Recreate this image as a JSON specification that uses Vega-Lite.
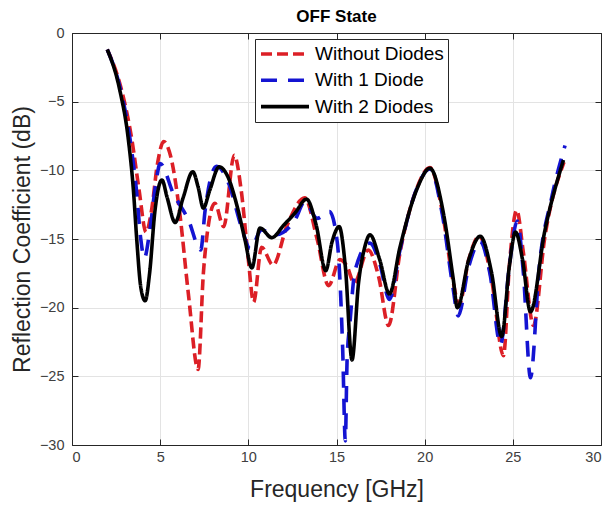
{
  "$schema": "https://vega.github.io/schema/vega-lite/v6.json",
  "width": 529,
  "height": 412,
  "autosize": {"type": "none"},
  "padding": {"left": 72, "top": 33, "right": 10, "bottom": 64},
  "background": "white",
  "title": {"text": "OFF State", "fontSize": 17, "fontWeight": "bold", "font": "Liberation Sans", "color": "#000000", "offset": -1, "anchor": "middle"},
  "config": {
    "view": {"stroke": "#262626", "strokeWidth": 1},
    "axis": {"labelFont": "Liberation Sans", "titleFont": "Liberation Sans", "labelColor": "#404040", "titleColor": "#262626", "labelFontSize": 14.5, "titleFontSize": 23, "titleFontWeight": "normal", "domainColor": "#262626", "tickColor": "#262626", "gridColor": "#e3e3e3", "gridOpacity": 1}
  },
  "data": {"values": [
    {"series": "Without Diodes", "freq": 2.0, "rc": -1.2},
    {"series": "Without Diodes", "freq": 2.8, "rc": -4.1},
    {"series": "Without Diodes", "freq": 3.4, "rc": -7.8},
    {"series": "Without Diodes", "freq": 3.8, "rc": -11.4},
    {"series": "Without Diodes", "freq": 4.2, "rc": -14.5},
    {"series": "Without Diodes", "freq": 4.5, "rc": -13.0},
    {"series": "Without Diodes", "freq": 4.85, "rc": -9.5},
    {"series": "Without Diodes", "freq": 5.2, "rc": -7.9},
    {"series": "Without Diodes", "freq": 5.6, "rc": -9.0},
    {"series": "Without Diodes", "freq": 6.1, "rc": -13.0},
    {"series": "Without Diodes", "freq": 6.6, "rc": -19.0},
    {"series": "Without Diodes", "freq": 7.15, "rc": -24.5},
    {"series": "Without Diodes", "freq": 7.45, "rc": -17.5},
    {"series": "Without Diodes", "freq": 7.7, "rc": -14.3},
    {"series": "Without Diodes", "freq": 8.1, "rc": -12.4},
    {"series": "Without Diodes", "freq": 8.6, "rc": -14.1},
    {"series": "Without Diodes", "freq": 9.2, "rc": -8.9},
    {"series": "Without Diodes", "freq": 9.6, "rc": -11.5},
    {"series": "Without Diodes", "freq": 10.0, "rc": -16.5},
    {"series": "Without Diodes", "freq": 10.3, "rc": -19.6},
    {"series": "Without Diodes", "freq": 10.75, "rc": -15.6},
    {"series": "Without Diodes", "freq": 11.4, "rc": -16.9},
    {"series": "Without Diodes", "freq": 12.2, "rc": -14.0},
    {"series": "Without Diodes", "freq": 13.2, "rc": -12.0},
    {"series": "Without Diodes", "freq": 13.9, "rc": -15.0},
    {"series": "Without Diodes", "freq": 14.55, "rc": -18.4},
    {"series": "Without Diodes", "freq": 15.2, "rc": -16.5},
    {"series": "Without Diodes", "freq": 15.6, "rc": -17.0},
    {"series": "Without Diodes", "freq": 16.0, "rc": -18.2},
    {"series": "Without Diodes", "freq": 16.8, "rc": -15.8},
    {"series": "Without Diodes", "freq": 17.4, "rc": -17.8},
    {"series": "Without Diodes", "freq": 17.95, "rc": -21.3},
    {"series": "Without Diodes", "freq": 18.6, "rc": -16.0},
    {"series": "Without Diodes", "freq": 19.5, "rc": -11.5},
    {"series": "Without Diodes", "freq": 20.3, "rc": -9.8},
    {"series": "Without Diodes", "freq": 21.0, "rc": -13.0},
    {"series": "Without Diodes", "freq": 21.6, "rc": -18.0},
    {"series": "Without Diodes", "freq": 21.95, "rc": -19.8},
    {"series": "Without Diodes", "freq": 22.5, "rc": -16.5},
    {"series": "Without Diodes", "freq": 23.1, "rc": -14.8},
    {"series": "Without Diodes", "freq": 23.8, "rc": -18.0},
    {"series": "Without Diodes", "freq": 24.47, "rc": -23.5},
    {"series": "Without Diodes", "freq": 24.8, "rc": -17.0},
    {"series": "Without Diodes", "freq": 25.22, "rc": -12.9},
    {"series": "Without Diodes", "freq": 25.6, "rc": -16.0},
    {"series": "Without Diodes", "freq": 26.17, "rc": -21.3},
    {"series": "Without Diodes", "freq": 26.8, "rc": -15.0},
    {"series": "Without Diodes", "freq": 27.9, "rc": -9.4},

    {"series": "With 1 Diode", "freq": 2.0, "rc": -1.2},
    {"series": "With 1 Diode", "freq": 2.75, "rc": -4.1},
    {"series": "With 1 Diode", "freq": 3.3, "rc": -7.8},
    {"series": "With 1 Diode", "freq": 3.65, "rc": -11.4},
    {"series": "With 1 Diode", "freq": 3.9, "rc": -15.0},
    {"series": "With 1 Diode", "freq": 4.1, "rc": -16.4},
    {"series": "With 1 Diode", "freq": 4.4, "rc": -14.5},
    {"series": "With 1 Diode", "freq": 4.75, "rc": -11.0},
    {"series": "With 1 Diode", "freq": 5.0, "rc": -9.5},
    {"series": "With 1 Diode", "freq": 5.75, "rc": -11.7},
    {"series": "With 1 Diode", "freq": 6.6, "rc": -13.6},
    {"series": "With 1 Diode", "freq": 7.3, "rc": -15.8},
    {"series": "With 1 Diode", "freq": 7.55, "rc": -12.9},
    {"series": "With 1 Diode", "freq": 8.2, "rc": -9.7},
    {"series": "With 1 Diode", "freq": 8.9, "rc": -11.0},
    {"series": "With 1 Diode", "freq": 9.6, "rc": -14.1},
    {"series": "With 1 Diode", "freq": 10.1, "rc": -15.7},
    {"series": "With 1 Diode", "freq": 10.76, "rc": -14.35},
    {"series": "With 1 Diode", "freq": 11.5, "rc": -14.7},
    {"series": "With 1 Diode", "freq": 12.65, "rc": -13.6},
    {"series": "With 1 Diode", "freq": 13.2, "rc": -12.3},
    {"series": "With 1 Diode", "freq": 13.9, "rc": -13.5},
    {"series": "With 1 Diode", "freq": 14.6, "rc": -13.0},
    {"series": "With 1 Diode", "freq": 15.05, "rc": -15.3},
    {"series": "With 1 Diode", "freq": 15.35, "rc": -23.0},
    {"series": "With 1 Diode", "freq": 15.5, "rc": -29.7},
    {"series": "With 1 Diode", "freq": 15.6, "rc": -23.8},
    {"series": "With 1 Diode", "freq": 15.77, "rc": -21.0},
    {"series": "With 1 Diode", "freq": 16.05, "rc": -17.3},
    {"series": "With 1 Diode", "freq": 16.9, "rc": -15.3},
    {"series": "With 1 Diode", "freq": 17.45, "rc": -16.8},
    {"series": "With 1 Diode", "freq": 18.0, "rc": -19.4},
    {"series": "With 1 Diode", "freq": 18.6, "rc": -15.8},
    {"series": "With 1 Diode", "freq": 19.5, "rc": -11.5},
    {"series": "With 1 Diode", "freq": 20.3, "rc": -9.9},
    {"series": "With 1 Diode", "freq": 21.0, "rc": -13.2},
    {"series": "With 1 Diode", "freq": 21.6, "rc": -18.5},
    {"series": "With 1 Diode", "freq": 21.9, "rc": -20.6},
    {"series": "With 1 Diode", "freq": 22.5, "rc": -17.0},
    {"series": "With 1 Diode", "freq": 23.15, "rc": -15.2},
    {"series": "With 1 Diode", "freq": 23.7, "rc": -17.5},
    {"series": "With 1 Diode", "freq": 24.3, "rc": -22.7},
    {"series": "With 1 Diode", "freq": 24.8, "rc": -17.0},
    {"series": "With 1 Diode", "freq": 25.25, "rc": -13.7},
    {"series": "With 1 Diode", "freq": 25.6, "rc": -17.5},
    {"series": "With 1 Diode", "freq": 26.0, "rc": -25.1},
    {"series": "With 1 Diode", "freq": 26.5, "rc": -17.0},
    {"series": "With 1 Diode", "freq": 27.2, "rc": -12.0},
    {"series": "With 1 Diode", "freq": 27.96, "rc": -8.2},

    {"series": "With 2 Diodes", "freq": 2.0, "rc": -1.2},
    {"series": "With 2 Diodes", "freq": 2.7, "rc": -4.1},
    {"series": "With 2 Diodes", "freq": 3.2, "rc": -7.8},
    {"series": "With 2 Diodes", "freq": 3.48, "rc": -11.4},
    {"series": "With 2 Diodes", "freq": 3.67, "rc": -15.0},
    {"series": "With 2 Diodes", "freq": 3.9, "rc": -18.5},
    {"series": "With 2 Diodes", "freq": 4.15, "rc": -19.5},
    {"series": "With 2 Diodes", "freq": 4.4, "rc": -17.5},
    {"series": "With 2 Diodes", "freq": 4.7, "rc": -13.0},
    {"series": "With 2 Diodes", "freq": 5.1, "rc": -10.7},
    {"series": "With 2 Diodes", "freq": 5.4, "rc": -12.0},
    {"series": "With 2 Diodes", "freq": 5.85, "rc": -13.8},
    {"series": "With 2 Diodes", "freq": 6.3, "rc": -12.0},
    {"series": "With 2 Diodes", "freq": 6.85, "rc": -10.1},
    {"series": "With 2 Diodes", "freq": 7.15, "rc": -11.2},
    {"series": "With 2 Diodes", "freq": 7.45, "rc": -12.75},
    {"series": "With 2 Diodes", "freq": 7.8, "rc": -11.5},
    {"series": "With 2 Diodes", "freq": 8.35, "rc": -9.75},
    {"series": "With 2 Diodes", "freq": 8.85, "rc": -10.5},
    {"series": "With 2 Diodes", "freq": 9.4, "rc": -12.8},
    {"series": "With 2 Diodes", "freq": 9.8, "rc": -15.0},
    {"series": "With 2 Diodes", "freq": 10.2, "rc": -17.1},
    {"series": "With 2 Diodes", "freq": 10.66, "rc": -14.2},
    {"series": "With 2 Diodes", "freq": 11.33, "rc": -14.9},
    {"series": "With 2 Diodes", "freq": 12.0, "rc": -14.0},
    {"series": "With 2 Diodes", "freq": 12.65, "rc": -13.1},
    {"series": "With 2 Diodes", "freq": 13.3, "rc": -12.1},
    {"series": "With 2 Diodes", "freq": 13.85, "rc": -14.0},
    {"series": "With 2 Diodes", "freq": 14.39, "rc": -17.3},
    {"series": "With 2 Diodes", "freq": 14.75, "rc": -15.2},
    {"series": "With 2 Diodes", "freq": 15.15, "rc": -14.1},
    {"series": "With 2 Diodes", "freq": 15.5, "rc": -17.0},
    {"series": "With 2 Diodes", "freq": 15.88, "rc": -23.8},
    {"series": "With 2 Diodes", "freq": 16.25, "rc": -18.2},
    {"series": "With 2 Diodes", "freq": 16.6, "rc": -15.6},
    {"series": "With 2 Diodes", "freq": 16.9, "rc": -14.7},
    {"series": "With 2 Diodes", "freq": 17.45, "rc": -16.5},
    {"series": "With 2 Diodes", "freq": 18.0, "rc": -19.0},
    {"series": "With 2 Diodes", "freq": 18.6, "rc": -15.6},
    {"series": "With 2 Diodes", "freq": 19.55, "rc": -11.4},
    {"series": "With 2 Diodes", "freq": 20.3, "rc": -9.85},
    {"series": "With 2 Diodes", "freq": 21.06, "rc": -13.1},
    {"series": "With 2 Diodes", "freq": 21.63, "rc": -18.0},
    {"series": "With 2 Diodes", "freq": 21.85, "rc": -20.0},
    {"series": "With 2 Diodes", "freq": 22.5, "rc": -16.5},
    {"series": "With 2 Diodes", "freq": 23.15, "rc": -14.8},
    {"series": "With 2 Diodes", "freq": 23.8, "rc": -17.5},
    {"series": "With 2 Diodes", "freq": 24.37, "rc": -22.1},
    {"series": "With 2 Diodes", "freq": 24.8, "rc": -17.0},
    {"series": "With 2 Diodes", "freq": 25.15, "rc": -14.5},
    {"series": "With 2 Diodes", "freq": 25.55, "rc": -16.5},
    {"series": "With 2 Diodes", "freq": 26.0, "rc": -20.3},
    {"series": "With 2 Diodes", "freq": 26.8, "rc": -14.5},
    {"series": "With 2 Diodes", "freq": 27.87, "rc": -9.25}
  ]},
  "resolve": {"axis": {"x": "independent", "y": "independent"}},
  "layer": [
    {
      "mark": {"type": "line", "interpolate": "monotone", "strokeWidth": 3.6, "strokeCap": "butt"},
      "encoding": {
        "x": {"field": "freq", "type": "quantitative", "scale": {"domain": [0, 30], "nice": false, "zero": false},
              "axis": {"title": "Frequency [GHz]", "values": [0, 5, 10, 15, 20, 25, 30], "grid": true, "tickSize": -6, "labelPadding": 11, "titlePadding": 15}},
        "y": {"field": "rc", "type": "quantitative", "scale": {"domain": [-30, 0], "nice": false, "zero": false},
              "axis": {"title": "Reflection Coefficient (dB)", "values": [-30, -25, -20, -15, -10, -5, 0], "grid": true, "tickSize": -6, "labelPadding": 14, "titlePadding": 5}},
        "color": {"field": "series", "type": "nominal",
                  "scale": {"domain": ["Without Diodes", "With 1 Diode", "With 2 Diodes"], "range": ["#dc1f26", "#1414d2", "#000000"]},
                  "legend": {"title": null, "orient": "none", "legendX": 183, "legendY": 6, "symbolType": "stroke", "symbolSize": 2304, "symbolStrokeWidth": 3.6, "clipHeight": 22, "rowPadding": 4.3, "padding": 4, "labelFontSize": 19, "labelFont": "Liberation Sans", "labelColor": "#000000", "labelOffset": 4, "strokeColor": "#262626", "fillColor": "#ffffff", "cornerRadius": 0}},
        "strokeDash": {"field": "series", "type": "nominal",
                       "scale": {"domain": ["Without Diodes", "With 1 Diode", "With 2 Diodes"], "range": [[11, 5], [16, 11], [1, 0]]},
                       "legend": {"title": null, "orient": "none", "legendX": 183, "legendY": 6, "symbolType": "stroke", "symbolSize": 2304, "symbolStrokeWidth": 3.6, "clipHeight": 22, "rowPadding": 4.3, "padding": 4, "labelFontSize": 19, "labelFont": "Liberation Sans", "labelColor": "#000000", "labelOffset": 4, "strokeColor": "#262626", "fillColor": "#ffffff", "cornerRadius": 0}}
      }
    },
    {
      "mark": {"type": "line", "opacity": 0},
      "encoding": {
        "x": {"field": "freq", "type": "quantitative", "scale": {"domain": [0, 30], "nice": false, "zero": false},
              "axis": {"orient": "top", "title": null, "labels": false, "grid": false, "values": [0, 5, 10, 15, 20, 25, 30], "tickSize": -6}},
        "y": {"field": "rc", "type": "quantitative", "scale": {"domain": [-30, 0], "nice": false, "zero": false},
              "axis": {"orient": "right", "title": null, "labels": false, "grid": false, "values": [-30, -25, -20, -15, -10, -5, 0], "tickSize": -6}},
        "detail": {"field": "series"}
      }
    }
  ]
}
